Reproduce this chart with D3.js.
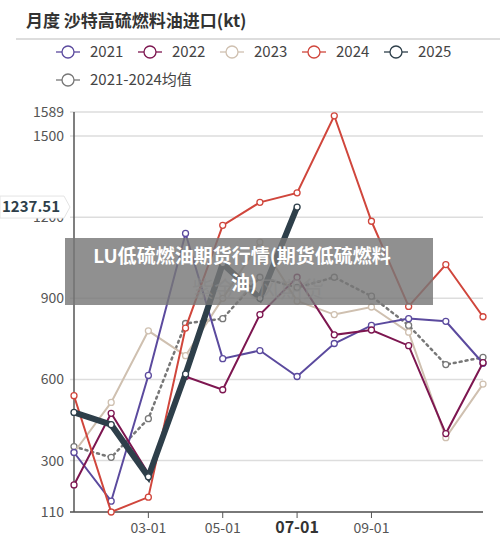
<!DOCTYPE html>
<html>
<head>
<meta charset="utf-8">
<script src="https://d3js.org/d3.v7.min.js"></script>
<style>
  body { margin: 0; background: #fff; font-family: "Noto Sans CJK SC", "Noto Sans", sans-serif; }
</style>
</head>
<body>
<script>
// months on the x axis (1..12)
var months = [1,2,3,4,5,6,7,8,9,10,11,12];
var tickMonths = [3,5,7,9];
var tickLabels = ["03-01","05-01","07-01","09-01"];
var yTicks = [110,300,600,900,1200,1500,1589];

// series values
var names = ["2021","2022","2023","2024","2025","2021-2024均值"];
var colors = ["#5b4a9e","#7d1650","#cfc0b0","#d0463c","#2e3f4a","#777"];
var v2021 = [330,150,615,1140,677,707,611,733,800,825,815,660];
var v2022 = [210,475,252,611,562,840,978,765,783,725,400,662];
var v2023 = [330,515,780,688,900,1108,890,840,868,775,385,583];
var v2024 = [540,110,165,790,1170,1255,1290,1575,1185,870,1025,832];
var v2025 = [478,433,240,620,1028,900,1237.51];
var vAvg  = [352,312,455,807,825,978,940,978,908,800,655,682];
var seriesValues = [v2021,v2022,v2023,v2024,v2025,vAvg];

var width = 500, height = 544;
var svg = d3.select("body").append("svg").attr("width", width).attr("height", height);

// title
svg.append("text").attr("x", 26).attr("y", 27)
  .style("font-size", "17px").style("font-weight", "bold").attr("fill", "#333")
  .text("月度 沙特高硫燃料油进口(kt)");
svg.append("line").attr("x1", 16).attr("x2", 500).attr("y1", 39).attr("y2", 39)
  .attr("stroke", "#bbb");

// legend
var legendPos = [[56,52],[138,52],[220,52],[302,52],[384,52],[56,80]];
names.forEach(function(n, i) {
  var g = svg.append("g").attr("transform", "translate(" + legendPos[i] + ")");
  g.append("line").attr("x1", 0).attr("x2", 24).attr("stroke", colors[i]).attr("stroke-width", 1.3);
  g.append("circle").attr("cx", 12).attr("r", 6).attr("fill", "#fff")
    .attr("stroke", colors[i]).attr("stroke-width", 1.3);
  g.append("text").attr("x", 34).attr("dy", "0.35em").style("font-size", "15px")
    .attr("fill", "#444").text(n);
});

var x = d3.scaleLinear().domain([1, 12]).range([74, 483]);
var y = d3.scaleLinear().domain([110, 1589]).range([512, 112]);

// grid lines
svg.selectAll(".grid").data(yTicks).enter().append("line")
  .attr("x1", 70).attr("x2", 483)
  .attr("y1", function(d) { return y(d); }).attr("y2", function(d) { return y(d); })
  .attr("stroke", "#ddd").attr("stroke-width", 1.5);

// y labels
svg.selectAll(".ylab").data(yTicks).enter().append("text")
  .attr("x", 64).attr("y", function(d) { return y(d); }).attr("dy", "0.35em")
  .attr("text-anchor", "end").style("font-size", "14px").attr("fill", "#555")
  .text(function(d) { return d; });

// axes lines
svg.append("line").attr("x1", 74).attr("x2", 74).attr("y1", 112).attr("y2", 512).attr("stroke", "#555").attr("stroke-width", 1.5);
svg.append("line").attr("x1", 70).attr("x2", 483).attr("y1", 512).attr("y2", 512).attr("stroke", "#555").attr("stroke-width", 1.5);
svg.selectAll(".xt").data(tickMonths).enter().append("line")
  .attr("x1", function(d) { return x(d); }).attr("x2", function(d) { return x(d); })
  .attr("y1", 512).attr("y2", 518).attr("stroke", "#555");
svg.selectAll(".xlab").data(tickMonths).enter().append("text")
  .attr("x", function(d) { return x(d); }).attr("y", 533).attr("text-anchor", "middle")
  .style("font-size", function(d) { return d == 7 ? "16px" : "14px"; })
  .style("font-weight", function(d) { return d == 7 ? "bold" : "normal"; })
  .attr("fill", function(d) { return d == 7 ? "#333" : "#555"; })
  .text(function(d, i) { return tickLabels[i]; });

var line = d3.line().x(function(d, i) { return x(months[i]); }).y(function(d) { return y(d); });

// draw series: avg first (dotted), 2025 last (thick)
var order = [5,2,0,1,3,4];
order.forEach(function(k) {
  var vals = seriesValues[k];
  svg.append("path").datum(vals).attr("d", line).attr("fill", "none")
    .attr("stroke", colors[k])
    .attr("stroke-width", k == 4 ? 6 : (k == 5 ? 2.5 : 2))
    .attr("stroke-dasharray", k == 5 ? "2,4" : null)
    .attr("stroke-linecap", "round");
  svg.selectAll(null).data(vals).enter().append("circle")
    .attr("cx", function(d, i) { return x(months[i]); })
    .attr("cy", function(d) { return y(d); })
    .attr("r", 3).attr("fill", "#fff").attr("stroke", colors[k]).attr("stroke-width", 1.3);
});

// value label for latest 2025 point
var lastVal = v2025[v2025.length - 1];
var ly = y(lastVal);
svg.append("path")
  .attr("d", "M0," + (ly - 11) + "H64L70," + ly + "L64," + (ly + 11) + "H0Z")
  .attr("fill", "#fff").attr("stroke", "#e4e4e4");
svg.append("text").attr("x", 2).attr("y", ly).attr("dy", "0.35em")
  .style("font-size", "15px").style("font-weight", "bold").attr("fill", "#2e3f4a")
  .text(lastVal.toFixed(2));

// watermark
svg.append("text").attr("x", 258).attr("y", 297).attr("text-anchor", "middle")
  .style("font-size", "22px").attr("fill", "#ccc").attr("opacity", 0.7).text("紫金天风期货");

// overlay banner
svg.append("rect").attr("x", 65).attr("y", 238).attr("width", 368).attr("height", 67)
  .attr("fill", "#777").attr("opacity", 0.82);
svg.append("text").attr("x", 242).attr("y", 263).attr("text-anchor", "middle")
  .style("font-size", "19px").style("font-weight", "bold").attr("fill", "#fff")
  .text("LU低硫燃油期货行情(期货低硫燃料");
svg.append("text").attr("x", 244).attr("y", 290).attr("text-anchor", "middle")
  .style("font-size", "19px").style("font-weight", "bold").attr("fill", "#fff")
  .text("油)");
</script>
</body>
</html>
